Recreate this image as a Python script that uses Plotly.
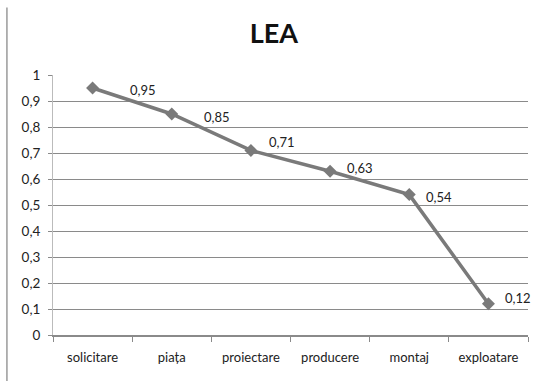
import plotly.graph_objects as go

# LEA score per stage of the product life cycle
stages = ["solicitare", "piața", "proiectare", "producere", "montaj", "exploatare"]
lea = [0.95, 0.85, 0.71, 0.63, 0.54, 0.12]
y_ticks = [0, 0.1, 0.2, 0.3, 0.4, 0.5, 0.6, 0.7, 0.8, 0.9, 1]

# nudge of each value label (px), keeps labels clear of the line
label_dx = [35, 30, 16, 15, 15, 15]
label_dy = [-2, -3, 8, 3, -2, 6]

FONT = "Lato, Open Sans, Noto Sans, sans-serif"
GRID = "#8a8a8a"
LINE = "#7a7a7a"

fig = go.Figure()
fig.add_trace(go.Scatter(
    x=stages, y=lea, mode="lines+markers",
    line=dict(color=LINE, width=3.5),
    marker=dict(symbol="diamond", size=10, color=LINE),
    hoverinfo="skip", showlegend=False,
))

for s, v, dx, dy in zip(stages, lea, label_dx, label_dy):
    fig.add_annotation(
        x=s, y=v, text=f"{v:.2f}".replace(".", ","), showarrow=False,
        xanchor="left", yanchor="middle", xshift=dx, yshift=dy,
        font=dict(family=FONT, size=13, color="#222222"),
    )

fig.update_layout(
    width=542, height=381,
    margin=dict(l=53, r=14, t=75, b=46),
    paper_bgcolor="white", plot_bgcolor="white",
    separators=",.",
    font=dict(family=FONT, size=13, color="#222222"),
    title=dict(text="<b>LEA</b>", x=0.465, xanchor="center", xref="paper",
               y=0.913, yanchor="middle",
               font=dict(family=FONT, size=27, color="#111111")),
    xaxis=dict(
        type="category", range=[-0.5, 5.5], tickson="boundaries",
        ticks="outside", ticklen=5, tickcolor=GRID,
        showline=True, linecolor=GRID, linewidth=1.5,
        showgrid=False, ticklabelstandoff=10,
        tickfont=dict(family=FONT, size=13, color="#222222"),
    ),
    yaxis=dict(
        range=[0, 1], tickvals=y_ticks,
        ticktext=[f"{t:g}".replace(".", ",") for t in y_ticks],
        ticks="outside", ticklen=4, tickcolor=GRID,
        showgrid=True, gridcolor=GRID, gridwidth=1.4,
        showline=True, linecolor="#bbbbbb", linewidth=1,
        zeroline=False, ticklabelstandoff=5,
        tickfont=dict(family=FONT, size=13.5, color="#222222"),
    ),
)

# thin frame line at the far left of the chart
fig.add_shape(type="line", xref="paper", yref="paper",
              x0=-0.097, x1=-0.097, y0=-0.18, y1=1.26,
              line=dict(color="#9a9a9a", width=1.5))

fig.write_html("out.html")
